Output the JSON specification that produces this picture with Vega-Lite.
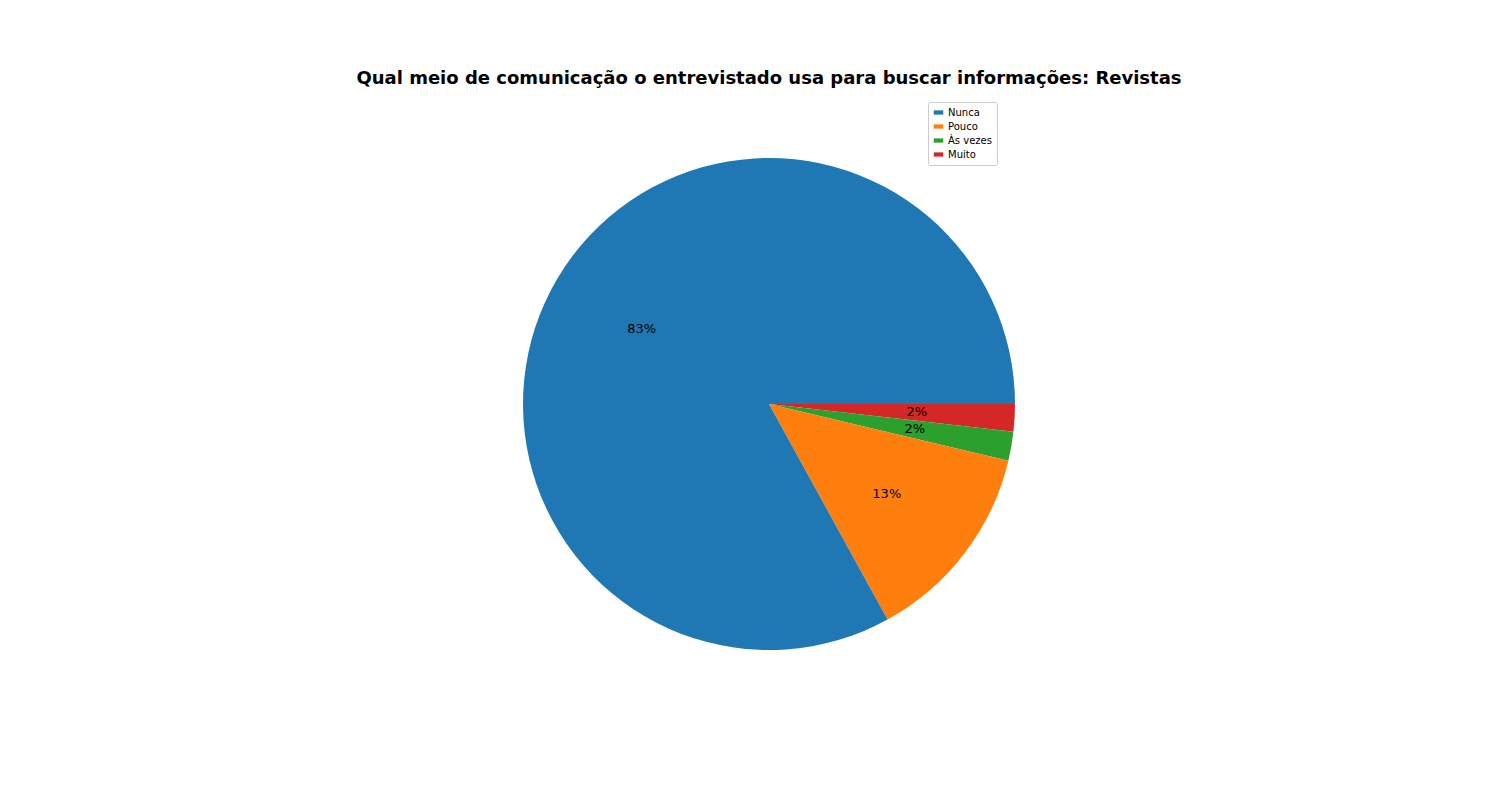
{
  "$schema": "https://vega.github.io/schema/vega-lite/v6.json",
  "autosize": "none",
  "padding": 0,
  "width": 1538,
  "height": 808,
  "background": "white",
  "title": {
    "text": "Qual meio de comunicação o entrevistado usa para buscar informações: Revistas",
    "fontSize": 18,
    "font": "DejaVu Sans",
    "fontWeight": "bold",
    "color": "black",
    "anchor": "middle",
    "offset": -88
  },
  "data": {
    "values": [
      {"resposta": "Muito", "ordem": 1, "pct": 1.8, "label": "2%"},
      {"resposta": "Às vezes", "ordem": 2, "pct": 1.9, "label": "2%"},
      {"resposta": "Pouco", "ordem": 3, "pct": 13.3, "label": "13%"},
      {"resposta": "Nunca", "ordem": 4, "pct": 83.0, "label": "83%"}
    ]
  },
  "encoding": {
    "theta": {"field": "pct", "type": "quantitative", "stack": true, "scale": {"range": [1.5708, 7.854]}},
    "order": {"field": "ordem", "type": "quantitative"}
  },
  "layer": [
    {
      "mark": {"type": "arc", "outerRadius": 246},
      "encoding": {
        "color": {
          "field": "resposta",
          "type": "nominal",
          "scale": {"domain": ["Nunca", "Pouco", "Às vezes", "Muito"], "range": ["#1f77b4", "#ff7f0e", "#2ca02c", "#d62728"]},
          "legend": {
            "title": null,
            "orient": "none",
            "legendX": 928,
            "legendY": 102,
            "padding": 5,
            "strokeColor": "#cccccc",
            "fillColor": "white",
            "cornerRadius": 2,
            "symbolType": "M-1,-0.45H1V0.45H-1Z",
            "symbolSize": 90,
            "symbolOpacity": 1,
            "labelFont": "DejaVu Sans",
            "labelFontSize": 10,
            "labelColor": "black",
            "rowPadding": 3
          }
        }
      }
    },
    {
      "mark": {"type": "text", "radius": 148, "fontSize": 13, "font": "DejaVu Sans", "color": "black"},
      "encoding": {"text": {"field": "label"}}
    }
  ]
}
